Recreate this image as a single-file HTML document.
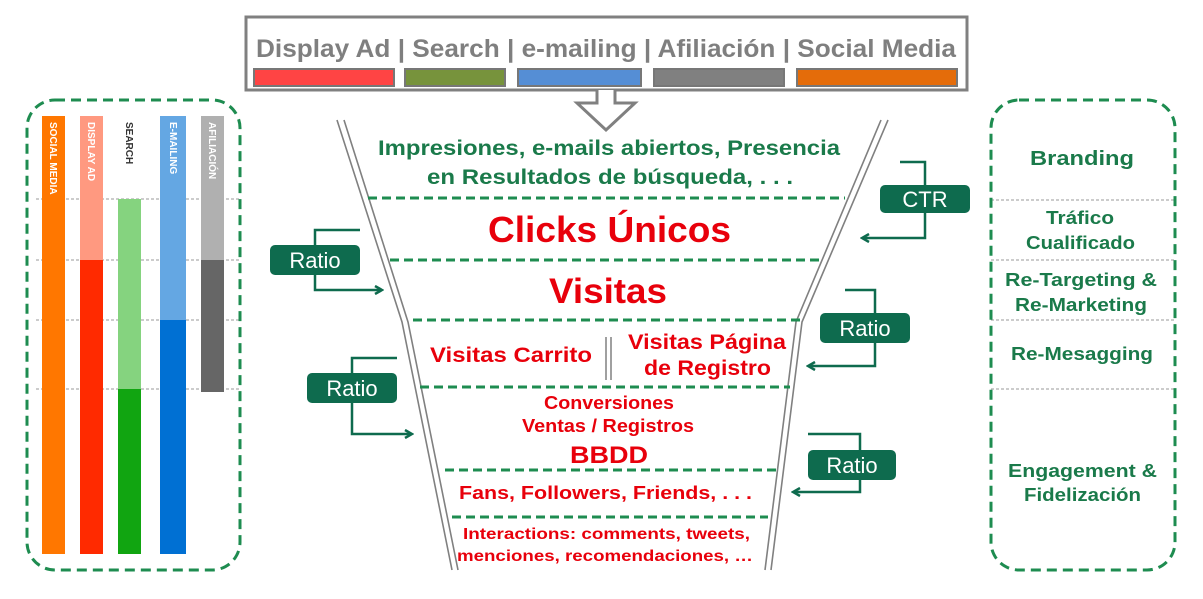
<!DOCTYPE html>
<html><head><meta charset="utf-8"><style>
html,body{margin:0;padding:0;background:#fff;}
svg{display:block;font-family:"Liberation Sans",Arial,sans-serif;font-weight:bold;}
</style></head><body>
<svg width="1203" height="599" viewBox="0 0 1203 599" xmlns="http://www.w3.org/2000/svg">
<defs>
<marker id="ar" markerWidth="10" markerHeight="10" refX="8" refY="5" orient="auto" markerUnits="userSpaceOnUse">
<path d="M1,1 L8,5 L1,9" fill="none" stroke="#0e6b4e" stroke-width="2.5"/></marker>
</defs>
<rect x="246" y="17" width="721" height="73" fill="#fff" stroke="#808080" stroke-width="3"/>
<text x="606" y="57" text-anchor="middle" font-size="25" fill="#7f7f7f" textLength="700" lengthAdjust="spacingAndGlyphs">Display Ad | Search | e-mailing | Afiliación | Social Media</text>
<rect x="254" y="69" width="140" height="17" fill="#ff4444" stroke="#777" stroke-width="2"/>
<rect x="405" y="69" width="100" height="17" fill="#77933c" stroke="#777" stroke-width="2"/>
<rect x="518" y="69" width="123" height="17" fill="#558ed5" stroke="#777" stroke-width="2"/>
<rect x="654" y="69" width="130" height="17" fill="#808080" stroke="#777" stroke-width="2"/>
<rect x="797" y="69" width="160" height="17" fill="#e46c0a" stroke="#777" stroke-width="2"/>
<path d="M597,90 L597,103 L577,103 L606,130 L635,103 L615,103 L615,90" fill="#fff" stroke="#808080" stroke-width="3"/>
<g fill="none" stroke="#808080" stroke-width="1.6">
<path d="M337,120 L402,322 L452,570"/><path d="M344,120 L408,322 L458,570"/>
<path d="M881,120 L796,322 L765,570"/><path d="M888,120 L802,322 L771,570"/>
</g>
<g stroke="#1e8c50" stroke-width="3" stroke-dasharray="9,5">
<line x1="368" y1="198" x2="845" y2="198"/>
<line x1="390" y1="260" x2="820" y2="260"/>
<line x1="413" y1="320" x2="800" y2="320"/>
<line x1="420" y1="387" x2="790" y2="387"/>
<line x1="445" y1="470" x2="778" y2="470"/>
<line x1="452" y1="517" x2="768" y2="517"/>
</g>
<g fill="none" stroke="#808080" stroke-width="1.5"><line x1="606" y1="337" x2="606" y2="380"/><line x1="611" y1="337" x2="611" y2="380"/></g>
<g lengthAdjust="spacingAndGlyphs">
<text x="378" y="155" font-size="21" fill="#1a7a4a" textLength="462" lengthAdjust="spacingAndGlyphs">Impresiones, e-mails abiertos, Presencia</text>
<text x="427" y="184" font-size="21" fill="#1a7a4a" textLength="366" lengthAdjust="spacingAndGlyphs">en Resultados de búsqueda, . . .</text>
<g fill="#e8000b">
<text x="488" y="242" font-size="36" textLength="243" lengthAdjust="spacingAndGlyphs">Clicks Únicos</text>
<text x="549" y="303" font-size="35" textLength="118" lengthAdjust="spacingAndGlyphs">Visitas</text>
<text x="430" y="362" font-size="21" textLength="162" lengthAdjust="spacingAndGlyphs">Visitas Carrito</text>
<text x="628" y="349" font-size="21" textLength="158" lengthAdjust="spacingAndGlyphs">Visitas Página</text>
<text x="644" y="375" font-size="21" textLength="127" lengthAdjust="spacingAndGlyphs">de Registro</text>
<text x="544" y="409" font-size="18" textLength="130" lengthAdjust="spacingAndGlyphs">Conversiones</text>
<text x="522" y="432" font-size="18" textLength="172" lengthAdjust="spacingAndGlyphs">Ventas / Registros</text>
<text x="570" y="463" font-size="24" textLength="78" lengthAdjust="spacingAndGlyphs">BBDD</text>
<text x="459" y="499" font-size="18" textLength="293" lengthAdjust="spacingAndGlyphs">Fans, Followers,  Friends, . . .</text>
<text x="463" y="539" font-size="16" textLength="287" lengthAdjust="spacingAndGlyphs">Interactions: comments, tweets,</text>
<text x="457" y="561" font-size="16" textLength="296" lengthAdjust="spacingAndGlyphs">menciones, recomendaciones, …</text>
</g>
</g>
<g fill="none" stroke="#0e6b4e" stroke-width="2.5">
<path d="M360,230 L315,230 L315,290 L382,290" marker-end="url(#ar)"/>
<path d="M397,358 L352,358 L352,434 L412,434" marker-end="url(#ar)"/>
<path d="M900,162 L925,162 L925,238 L862,238" marker-end="url(#ar)"/>
<path d="M845,290 L875,290 L875,366 L808,366" marker-end="url(#ar)"/>
<path d="M808,434 L860,434 L860,492 L793,492" marker-end="url(#ar)"/>
</g>
<g fill="#0e6b4e">
<rect x="270" y="245" width="90" height="30" rx="5"/>
<rect x="307" y="373" width="90" height="30" rx="5"/>
<rect x="880" y="185" width="90" height="28" rx="5"/>
<rect x="820" y="313" width="90" height="30" rx="5"/>
<rect x="808" y="450" width="88" height="30" rx="5"/>
</g>
<g fill="#fff" font-weight="normal" font-size="22" text-anchor="middle">
<text x="315" y="268">Ratio</text><text x="352" y="396">Ratio</text>
<text x="925" y="207">CTR</text><text x="865" y="336">Ratio</text><text x="852" y="473">Ratio</text>
</g>
<g stroke="#999" stroke-width="1" stroke-dasharray="3,2">
<line x1="36" y1="199" x2="240" y2="199"/><line x1="36" y1="260" x2="240" y2="260"/>
<line x1="36" y1="320" x2="240" y2="320"/><line x1="36" y1="389" x2="240" y2="389"/>
<line x1="991" y1="200" x2="1175" y2="200"/><line x1="991" y1="260" x2="1175" y2="260"/>
<line x1="991" y1="320" x2="1175" y2="320"/><line x1="991" y1="389" x2="1175" y2="389"/>
</g>
<rect x="42" y="116" width="23" height="438" fill="#ff7700"/>
<rect x="80" y="116" width="23" height="144" fill="#ff9980"/><rect x="80" y="260" width="23" height="294" fill="#ff2a00"/>
<rect x="118" y="199" width="23" height="190" fill="#85d37f"/><rect x="118" y="389" width="23" height="165" fill="#11a511"/>
<rect x="160" y="116" width="26" height="204" fill="#64a7e3"/><rect x="160" y="320" width="26" height="234" fill="#0070d3"/>
<rect x="201" y="116" width="23" height="144" fill="#b0b0b0"/><rect x="201" y="260" width="23" height="132" fill="#666"/>
<g font-size="10" fill="#fff">
<text transform="translate(50,122) rotate(90)">SOCIAL MEDIA</text>
<text transform="translate(88,122) rotate(90)">DISPLAY AD</text>
<text transform="translate(126,122) rotate(90)" fill="#333">SEARCH</text>
<text transform="translate(170,122) rotate(90)">E-MAILING</text>
<text transform="translate(209,122) rotate(90)">AFILIACIÓN</text>
</g>
<rect x="27" y="100" width="213" height="470" rx="28" fill="none" stroke="#1e8c50" stroke-width="3" stroke-dasharray="10,6"/>
<rect x="991" y="100" width="184" height="470" rx="28" fill="none" stroke="#1e8c50" stroke-width="3" stroke-dasharray="10,6"/>
<g fill="#1a7a4a">
<text x="1030" y="165" font-size="20" textLength="104" lengthAdjust="spacingAndGlyphs">Branding</text>
<text x="1046" y="224" font-size="18" textLength="68" lengthAdjust="spacingAndGlyphs">Tráfico</text>
<text x="1026" y="249" font-size="18" textLength="109" lengthAdjust="spacingAndGlyphs">Cualificado</text>
<text x="1005" y="286" font-size="18" textLength="152" lengthAdjust="spacingAndGlyphs">Re-Targeting &amp;</text>
<text x="1015" y="311" font-size="18" textLength="132" lengthAdjust="spacingAndGlyphs">Re-Marketing</text>
<text x="1011" y="360" font-size="18" textLength="142" lengthAdjust="spacingAndGlyphs">Re-Mesagging</text>
<text x="1008" y="477" font-size="18" textLength="149" lengthAdjust="spacingAndGlyphs">Engagement &amp;</text>
<text x="1024" y="501" font-size="18" textLength="117" lengthAdjust="spacingAndGlyphs">Fidelización</text>
</g>
</svg>
</body></html>
